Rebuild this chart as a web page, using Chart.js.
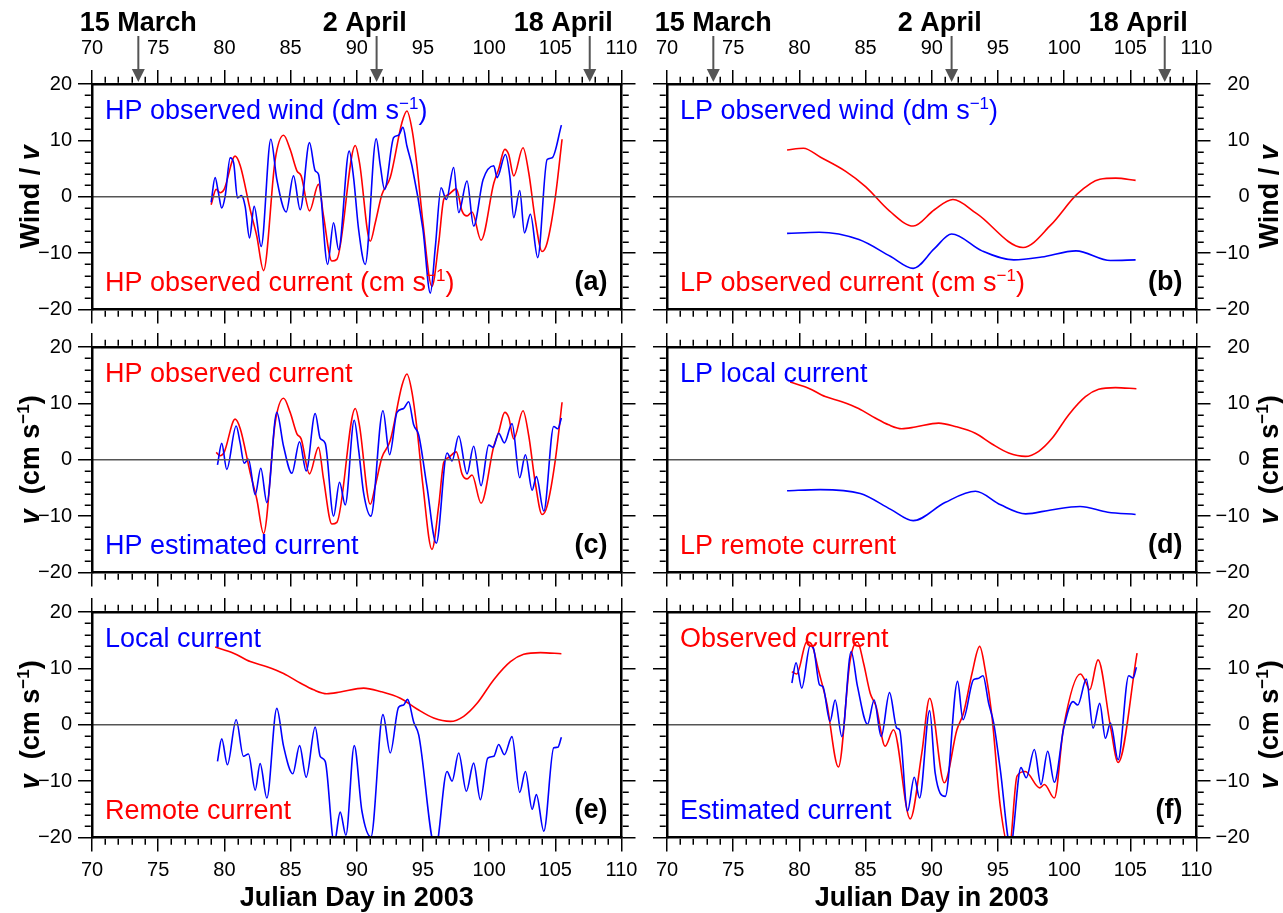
<!DOCTYPE html>
<html>
<head>
<meta charset="utf-8">
<script src="https://cdn.jsdelivr.net/npm/chart.js@4.4.1/dist/chart.umd.min.js"></script>
<style>
  html, body { margin: 0; padding: 0; background: #ffffff; }
  #wrap { position: relative; width: 1283px; height: 913px; overflow: hidden; }
  #wrap canvas { position: absolute; left: 0; top: 0; }
</style>
</head>
<body>
<div id="wrap"></div>
<script>
// ---------- axis ranges ----------
const dayRange = [70, 110];
const velRange = [-20, 20];

// ---------- date markers on the top axis ----------
const markDays = [73.5, 91.5, 107.6];
const markTexts = ['15 March', '2 April', '18 April'];
const markTextDays = [73.5, 90.6, 105.6];

// ---------- (a) HP observed wind (dm/s) ----------
const hpWindDay = [79.0, 79.3, 79.55, 79.8, 80.06, 80.44, 80.7, 80.99, 81.29, 81.57, 81.9, 82.25, 82.78, 83.51, 83.96, 84.67, 85.22, 85.73, 86.43, 86.86, 87.11, 87.8, 88.25, 88.63, 89.43, 89.76, 90.14, 90.64, 91.47, 91.78, 92.1, 92.79, 93.16, 93.49, 93.79, 94.17, 95.0, 95.56, 95.94, 96.37, 96.77, 97.32, 97.7, 98.33, 98.83, 99.54, 100.35, 100.6, 101.23, 101.56, 101.86, 102.31, 102.67, 103.12, 103.67, 104.38, 104.76, 105.46];
const hpWind = [-1.0, 3.4, 0.7, -2.0, 0.1, 6.9, 6.0, -0.2, 0.2, -1.7, -7.3, -1.7, -8.8, 10.2, 3.1, -2.7, 3.7, -2.3, 9.6, 4.6, 4.0, -12.0, -4.6, -9.4, 8.1, 3.4, -5.8, -12.0, 10.3, 5.5, 1.3, 10.5, 10.9, 12.3, 9.0, 5.5, -5.8, -17.1, -8.8, 1.6, -0.5, 5.2, -2.8, 2.8, -5.2, 3.0, 5.5, 3.4, 7.5, 3.7, -3.7, 1.1, -6.4, -3.1, -10.8, 6.6, 6.9, 12.7];

// ---------- (a), (c) HP observed current (cm/s) ----------
const hpCurDay = [79.0, 79.38, 79.68, 79.98, 80.81, 81.2, 81.95, 82.45, 82.96, 83.84, 84.47, 84.97, 85.48, 85.8, 86.43, 87.11, 87.49, 88.12, 88.5, 89.89, 90.21, 91.02, 91.4, 91.9, 92.53, 93.42, 93.79, 94.17, 94.55, 95.0, 95.68, 96.19, 96.57, 96.94, 97.52, 97.95, 98.33, 98.71, 99.39, 100.35, 100.72, 101.18, 101.48, 101.86, 102.56, 102.99, 103.5, 104.0, 104.38, 105.01, 105.51];
const hpCur = [-1.4, 1.3, 0.7, 1.3, 7.2, 5.5, -2.3, -7.0, -13.1, 6.6, 10.9, 8.4, 4.6, 3.7, -2.5, 2.2, -3.4, -11.4, -11.1, 9.1, 6.0, -7.9, -4.6, 0.4, 3.4, 13.2, 15.2, 12.0, 5.5, -4.6, -15.9, -8.2, -0.5, 0.4, 1.4, -2.5, -3.4, -2.7, -7.7, 2.4, 4.9, 8.4, 7.5, 3.7, 8.7, 4.3, -4.3, -9.7, -8.2, 0.1, 10.2];

// ---------- (c) HP estimated current ----------
const hpEstDay = [79.48, 79.8, 80.18, 80.89, 81.19, 81.49, 81.82, 82.33, 82.75, 83.21, 83.96, 84.47, 85.1, 85.68, 86.18, 86.86, 87.24, 87.62, 88.25, 88.7, 89.13, 89.81, 90.14, 90.52, 91.07, 91.98, 92.48, 93.04, 93.54, 93.92, 94.3, 94.68, 95.3, 96.01, 96.82, 97.2, 97.7, 98.33, 98.83, 99.39, 99.97, 100.3, 100.72, 101.15, 101.73, 102.31, 102.74, 103.25, 103.57, 104.13, 104.88, 105.19, 105.46];
const hpEst = [-0.9, 2.9, -1.7, 6.0, 3.0, -0.6, 0.1, -6.2, -1.5, -7.6, 8.4, 2.4, -2.4, 3.2, -2.0, 8.2, 3.8, 2.9, -10.0, -4.0, -8.0, 7.0, 1.8, -5.9, -10.0, 8.7, 0.9, 8.4, 9.1, 10.3, 6.2, 4.4, -4.7, -14.8, 1.2, -0.2, 4.2, -2.5, 2.4, -4.6, 2.6, 2.2, 4.7, 3.0, 6.4, -3.2, 0.9, -5.4, -3.0, -9.1, 5.9, 5.5, 7.4];

// ---------- (b) LP observed wind and current ----------
const lpWindDay = [79.07, 81.5, 84.5, 86.9, 88.6, 90.2, 91.5, 93.8, 96.2, 98.3, 100.9, 103.5, 105.4];
const lpWind = [-6.5, -6.3, -7.6, -10.6, -12.7, -9.2, -6.6, -9.6, -11.2, -10.7, -9.6, -11.3, -11.2];
const lpCurDay = [79.07, 80.3, 81.6, 83.5, 85.0, 86.8, 88.6, 90.2, 91.6, 93.4, 96.9, 99.0, 101.0, 102.7, 103.9, 105.4];
const lpCur = [8.3, 8.6, 7.0, 4.5, 1.8, -2.5, -5.2, -2.3, -0.5, -3.0, -9.0, -5.0, 0.5, 3.1, 3.3, 2.9];

// ---------- (d) LP local current ----------
const lpLocalDay = [79.07, 81.57, 84.6, 86.9, 88.6, 91.0, 93.3, 95.2, 97.1, 99.0, 101.2, 103.3, 105.4];
const lpLocal = [-5.5, -5.3, -6.0, -8.8, -10.8, -7.6, -5.6, -8.0, -9.6, -8.9, -8.3, -9.3, -9.7];

// ---------- (d), (e) remote current ----------
const remoteDay = [79.3, 80.69, 81.95, 83.21, 84.47, 85.73, 86.74, 87.74, 88.75, 90.52, 91.78, 93.29, 94.55, 95.81, 97.07, 98.08, 99.09, 100.35, 101.61, 102.61, 103.88, 105.46];
const remote = [13.8, 12.7, 11.2, 10.3, 9.1, 7.4, 6.2, 5.5, 5.8, 6.5, 5.9, 4.7, 2.8, 1.2, 0.6, 1.5, 3.8, 8.0, 11.2, 12.5, 12.8, 12.6];

// ---------- (e) local current ----------
const localDay = [79.48, 79.8, 80.23, 80.89, 81.44, 81.82, 82.33, 82.7, 83.21, 83.96, 84.47, 85.17, 85.68, 86.18, 86.86, 87.24, 87.62, 88.3, 88.75, 89.18, 89.81, 90.39, 91.07, 91.98, 92.53, 93.16, 93.54, 93.84, 94.3, 94.68, 95.95, 96.82, 97.2, 97.7, 98.28, 98.83, 99.34, 99.9, 100.35, 100.72, 101.15, 101.73, 102.31, 102.74, 103.25, 103.57, 104.13, 104.88, 105.19, 105.46];
const local = [-6.5, -2.5, -7.1, 0.9, -5.6, -5.2, -11.6, -6.9, -13.0, 2.9, -3.8, -8.7, -3.7, -9.3, -0.4, -5.6, -6.5, -21.0, -15.5, -19.6, -3.7, -15.3, -19.9, 1.8, -5.0, 3.1, 3.5, 4.5, 0.5, -1.8, -22.0, -8.3, -10.0, -5.0, -11.8, -6.8, -13.3, -5.9, -5.6, -3.5, -5.3, -2.1, -12.0, -8.3, -15.0, -12.4, -18.9, -4.1, -4.0, -2.2];

// ---------- (f) observed and estimated current ----------
const obsDay = [79.43, 79.8, 80.56, 80.94, 81.44, 82.07, 82.95, 83.84, 84.39, 84.85, 85.35, 85.8, 86.48, 87.11, 88.37, 89.25, 89.84, 90.95, 91.9, 92.4, 93.04, 93.62, 94.04, 94.55, 95.18, 95.85, 96.44, 97.07, 98.15, 98.51, 99.26, 99.97, 101.23, 101.61, 101.93, 102.56, 103.5, 104.08, 105.51];
const obs = [9.4, 9.0, 14.7, 14.2, 9.7, 3.8, -7.5, 11.5, 14.7, 10.9, 5.6, 3.2, -3.8, -0.9, -16.7, -5.0, 4.7, -10.3, -0.9, 2.1, 9.1, 13.9, 9.7, 1.5, -14.5, -22.0, -9.1, -8.3, -11.2, -10.6, -13.0, -0.3, 9.0, 7.7, 6.2, 11.5, -0.3, -6.7, 12.7];
const estDay = [79.43, 79.75, 80.18, 80.81, 81.06, 81.52, 81.77, 82.32, 82.7, 83.21, 83.91, 84.39, 85.15, 85.65, 86.18, 86.81, 87.36, 87.57, 88.17, 88.68, 89.08, 89.84, 90.26, 91.02, 91.95, 92.36, 93.16, 93.5, 93.87, 94.3, 94.68, 95.18, 95.95, 96.74, 97.14, 97.75, 98.25, 98.76, 99.26, 99.97, 100.67, 101.03, 101.68, 102.19, 102.69, 103.12, 103.5, 104.08, 104.88, 105.21, 105.46];
const est = [7.4, 11.0, 6.5, 14.0, 13.6, 7.1, 6.8, 0.6, 4.4, -2.1, 13.0, 6.8, 0.1, 4.4, -2.1, 5.7, -0.6, -0.9, -15.3, -9.3, -13.0, 2.5, -8.6, -12.7, 7.7, 0.9, 8.0, 8.2, 8.7, 3.8, 0.3, -8.0, -21.5, -7.6, -9.4, -4.4, -10.6, -4.7, -10.2, -0.6, 4.1, 3.5, 8.1, -0.6, 3.8, -2.4, 0.3, -6.2, 8.7, 8.3, 10.2];

// ---------- styling ----------
const FONT = "'Liberation Sans', Arial, Helvetica, sans-serif";
const BLUE = '#0000ff';
const RED = '#ff0000';
const W = 1283, H = 913;
const COL_LEFT = [92, 667];
const PLOT_W = 529.5;
const ROW_TOP = [84, 347, 612];
const PLOT_H = 225.5;
const AX = 60;                 // fixed thickness of every axis box
const BORDER = 2.5;
const MAJOR = 14, MINOR = 6;
const TXT = 27, SUP = 17;
const TICK_FONT = '20px ' + FONT;

function pts(xs, ys) { return xs.map((x, i) => ({ x: x, y: ys[i] })); }
function minus(v) { return v < 0 ? '\u2212' + Math.abs(v) : String(v); }
function withSup(base, tail) {
  return [{ t: base, size: TXT }, { t: '\u22121', size: SUP, dy: -10 }, { t: tail, size: TXT }];
}
function isMajor(scale, v) {
  return Math.round(v) % (scale.isHorizontal() ? 5 : 10) === 0;
}

const panels = [
  { col: 0, row: 0, lines: [[hpWindDay, hpWind, BLUE], [hpCurDay, hpCur, RED]],
    top: { parts: withSup('HP observed wind (dm s', ')'), color: BLUE },
    bottom: { parts: withSup('HP observed current (cm s', ')'), color: RED }, tag: '(a)', yTitle: 'wind' },
  { col: 1, row: 0, lines: [[lpWindDay, lpWind, BLUE], [lpCurDay, lpCur, RED]],
    top: { parts: withSup('LP observed wind (dm s', ')'), color: BLUE },
    bottom: { parts: withSup('LP observed current (cm s', ')'), color: RED }, tag: '(b)', yTitle: 'wind' },
  { col: 0, row: 1, lines: [[hpEstDay, hpEst, BLUE], [hpCurDay.slice(1), hpCur.slice(1), RED]],
    top: { parts: [{ t: 'HP observed current', size: TXT }], color: RED },
    bottom: { parts: [{ t: 'HP estimated current', size: TXT }], color: BLUE }, tag: '(c)', yTitle: 'vel' },
  { col: 1, row: 1, lines: [[lpLocalDay, lpLocal, BLUE], [remoteDay, remote, RED]],
    top: { parts: [{ t: 'LP local current', size: TXT }], color: BLUE },
    bottom: { parts: [{ t: 'LP remote current', size: TXT }], color: RED }, tag: '(d)', yTitle: 'vel' },
  { col: 0, row: 2, lines: [[localDay, local, BLUE], [remoteDay, remote, RED]],
    top: { parts: [{ t: 'Local current', size: TXT }], color: BLUE },
    bottom: { parts: [{ t: 'Remote current', size: TXT }], color: RED }, tag: '(e)', yTitle: 'vel' },
  { col: 1, row: 2, lines: [[estDay, est, BLUE], [obsDay, obs, RED]],
    top: { parts: [{ t: 'Observed current', size: TXT }], color: RED },
    bottom: { parts: [{ t: 'Estimated current', size: TXT }], color: BLUE }, tag: '(f)', yTitle: 'vel' }
];

// draws a run of text pieces (with optional raised superscripts)
function drawRich(ctx, parts, x, y, align, weight, color) {
  let total = 0;
  const fontOf = p => (p.style || '') + ' ' + (p.weight || weight) + ' ' + p.size + 'px ' + FONT;
  const widths = parts.map(p => {
    ctx.font = fontOf(p);
    const w = ctx.measureText(p.t).width;
    total += w;
    return w;
  });
  let cx = align === 'center' ? x - total / 2 : (align === 'right' ? x - total : x);
  ctx.fillStyle = color;
  ctx.textAlign = 'left';
  ctx.textBaseline = 'alphabetic';
  parts.forEach((p, i) => {
    ctx.font = fontOf(p);
    ctx.fillText(p.t, cx, y + (p.dy || 0));
    cx += widths[i];
  });
}

const yTitles = {
  wind: [{ t: 'Wind / ', size: TXT }, { t: 'v', size: TXT, style: 'italic' }],
  vel: [{ t: 'v', size: TXT, style: 'italic' }, { t: '  (cm s', size: TXT }, { t: '\u22121', size: SUP, dy: -10 }, { t: ')', size: TXT }]
};

function axis(side, horizontal, showLabels, step) {
  const o = {
    type: 'linear',
    position: side,
    min: horizontal ? dayRange[0] : velRange[0],
    max: horizontal ? dayRange[1] : velRange[1],
    border: { display: true, color: '#000', width: BORDER, z: 1 },
    grid: {
      drawOnChartArea: false, drawTicks: true, tickLength: MAJOR,
      color: '#000', lineWidth: 1.5, tickWidth: 1.5,
      // the library strokes the long (major) ticks; short ones are added by the frame plugin
      tickColor: c => (c.tick && isMajor(c.scale, c.tick.value) ? '#000' : 'rgba(0,0,0,0)')
    },
    ticks: {
      stepSize: step, maxTicksLimit: 100, autoSkip: false, maxRotation: 0, minRotation: 0,
      display: showLabels, color: '#000',
      font: { family: FONT, size: 20 },
      callback: v => (Math.round(v) % (horizontal ? 5 : 10) === 0 ? minus(v) : '')
    },
    afterFit: s => {
      if (horizontal) s.height = AX; else s.width = AX;
    }
  };
  o.ticks.padding = horizontal ? (side === 'top' ? 10 : 7) : 6;
  return o;
}

const frame = {
  id: 'frame',
  afterDraw(chart, args, opts) {
    const p = opts.panel;
    const ctx = chart.ctx;
    const a = chart.chartArea;
    const hw = BORDER / 2;
    ctx.save();

    // short ticks at every unstressed step of each axis
    ctx.strokeStyle = '#000';
    ctx.lineWidth = 1.5;
    ['x', 'x2', 'y', 'y2'].forEach(id => {
      const s = chart.scales[id];
      s.ticks.forEach(t => {
        if (isMajor(s, t.value)) return;
        const px = Math.round(s.getPixelForValue(t.value)) + 0.25;
        ctx.beginPath();
        if (s.position === 'bottom') { ctx.moveTo(px, a.bottom + hw); ctx.lineTo(px, a.bottom + hw + MINOR); }
        else if (s.position === 'top') { ctx.moveTo(px, a.top - hw); ctx.lineTo(px, a.top - hw - MINOR); }
        else if (s.position === 'left') { ctx.moveTo(a.left - hw, px); ctx.lineTo(a.left - hw - MINOR, px); }
        else { ctx.moveTo(a.right + hw, px); ctx.lineTo(a.right + hw + MINOR, px); }
        ctx.stroke();
      });
    });

    // right-hand value labels, aligned on their right edge
    if (p.col === 1) {
      const s = chart.scales.y2;
      ctx.fillStyle = '#000';
      ctx.font = TICK_FONT;
      ctx.textAlign = 'right';
      ctx.textBaseline = 'middle';
      s.ticks.forEach(t => {
        if (!isMajor(s, t.value)) return;
        ctx.fillText(minus(Math.round(t.value)), a.right + 53, s.getPixelForValue(t.value));
      });
    }

    // in-panel captions
    drawRich(ctx, p.top.parts, a.left + 13, a.top + 35, 'left', 'normal', p.top.color);
    drawRich(ctx, p.bottom.parts, a.left + 13, a.bottom - 19, 'left', 'normal', p.bottom.color);
    drawRich(ctx, [{ t: p.tag, size: TXT }], a.right - 14, a.bottom - 20, 'right', 'bold', '#000');

    // vertical axis title, reading upwards
    const tx = p.col === 0 ? a.left - 62 : a.right + 72;
    ctx.save();
    ctx.translate(tx, (a.top + a.bottom) / 2);
    ctx.rotate(-Math.PI / 2);
    drawRich(ctx, yTitles[p.yTitle], 0, 9, 'center', 'bold', '#000');
    ctx.restore();

    const xs = chart.scales.x2;
    if (p.row === 0) {
      // calendar dates and their arrows above the day axis
      markDays.forEach((d, i) => {
        const px = xs.getPixelForValue(d);
        ctx.strokeStyle = '#555';
        ctx.fillStyle = '#555';
        ctx.lineWidth = 2;
        ctx.beginPath();
        ctx.moveTo(px, 36);
        ctx.lineTo(px, 70);
        ctx.stroke();
        ctx.beginPath();
        ctx.moveTo(px - 6.5, 69);
        ctx.lineTo(px + 6.5, 69);
        ctx.lineTo(px, a.top - 2);
        ctx.closePath();
        ctx.fill();
        drawRich(ctx, [{ t: markTexts[i], size: TXT }], xs.getPixelForValue(markTextDays[i]), 31, 'center', 'bold', '#000');
      });
    }
    if (p.row === 2) {
      drawRich(ctx, [{ t: 'Julian Day in 2003', size: 27 }], (a.left + a.right) / 2, 906, 'center', 'bold', '#000');
    }
    ctx.restore();
  }
};

const wrap = document.getElementById('wrap');
panels.forEach(p => {
  const cv = document.createElement('canvas');
  cv.width = W; cv.height = H;
  cv.style.width = W + 'px'; cv.style.height = H + 'px';
  wrap.appendChild(cv);

  const left = COL_LEFT[p.col], top = ROW_TOP[p.row];
  const datasets = [{
    data: [{ x: dayRange[0], y: 0 }, { x: dayRange[1], y: 0 }],
    borderColor: '#555', borderWidth: 1.4, pointRadius: 0, clip: 0
  }];
  p.lines.forEach(([xs, ys, color]) => {
    datasets.push({
      data: pts(xs, ys), borderColor: color, borderWidth: 1.6, pointRadius: 0,
      cubicInterpolationMode: 'monotone', fill: false, clip: 0
    });
  });

  new Chart(cv, {
    type: 'line',
    data: { datasets: datasets },
    options: {
      responsive: false, animation: false, devicePixelRatio: 1, events: [],
      layout: {
        padding: {
          left: left - AX,
          right: W - (left + PLOT_W) - AX,
          top: top - AX,
          bottom: H - (top + PLOT_H) - AX
        }
      },
      plugins: { legend: { display: false }, tooltip: { enabled: false }, frame: { panel: p } },
      scales: {
        x: axis('bottom', true, p.row === 2, 1),
        x2: axis('top', true, p.row === 0, 1),
        y: axis('left', false, p.col === 0, 2),
        y2: axis('right', false, false, 2)
      }
    },
    plugins: [frame]
  });
});
</script>
</body>
</html>
